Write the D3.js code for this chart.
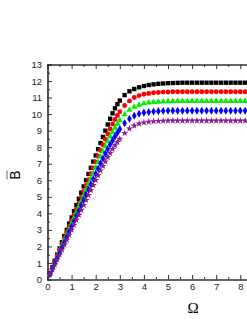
<!DOCTYPE html>
<html lang="en">

<head>
    <meta charset="UTF-8">
    <title>B vs Omega</title>
    <script src="https://cdn.jsdelivr.net/npm/d3@7"></script>
    <style>
        * {
            margin: 0;
            padding: 0;
        }

        body {
            background: #fff;
            overflow: hidden;
        }
    </style>
</head>

<body>
    <script>
        var width = 247;
        var height = 319;

        // omega grid (finer on the rising part, coarser on the plateau)
        var omega = [0.1, 0.2, 0.3, 0.4, 0.5, 0.6, 0.7, 0.8, 0.9, 1.0,
            1.1, 1.2, 1.3, 1.4, 1.5, 1.6, 1.7, 1.8, 1.9, 2.0,
            2.1, 2.2, 2.3, 2.4, 2.5, 2.6, 2.7, 2.8, 2.9, 3.0,
            3.2, 3.4, 3.6, 3.8, 4.0, 4.2, 4.4, 4.6, 4.8, 5.0,
            5.2, 5.4, 5.6, 5.8, 6.0, 6.2, 6.4, 6.6, 6.8, 7.0,
            7.2, 7.4, 7.6, 7.8, 8.0, 8.2, 8.4];

        var black = [0.38, 0.75, 1.13, 1.5, 1.88, 2.25, 2.63, 3.0, 3.38, 3.75,
            4.13, 4.5, 4.88, 5.25, 5.63, 6.0, 6.38, 6.75, 7.13, 7.5,
            7.88, 8.25, 8.62, 9.0, 9.37, 9.72, 10.05, 10.35, 10.6, 10.82,
            11.15, 11.38, 11.52, 11.62, 11.7, 11.76, 11.8, 11.83, 11.85, 11.87,
            11.88, 11.89, 11.9, 11.9, 11.9, 11.9, 11.9, 11.9, 11.9, 11.9,
            11.9, 11.9, 11.9, 11.9, 11.9, 11.9, 11.9];

        var red = [0.36, 0.71, 1.07, 1.42, 1.78, 2.13, 2.49, 2.84, 3.2, 3.55,
            3.91, 4.26, 4.62, 4.97, 5.33, 5.68, 6.04, 6.39, 6.75, 7.1,
            7.45, 7.8, 8.15, 8.48, 8.8, 9.1, 9.4, 9.67, 9.92, 10.15,
            10.52, 10.8, 11.0, 11.12, 11.2, 11.25, 11.29, 11.31, 11.33, 11.34,
            11.35, 11.35, 11.35, 11.35, 11.35, 11.35, 11.35, 11.35, 11.35, 11.35,
            11.35, 11.35, 11.35, 11.35, 11.35, 11.35, 11.35];

        var green = [0.34, 0.68, 1.01, 1.35, 1.69, 2.03, 2.37, 2.7, 3.04, 3.38,
            3.72, 4.06, 4.39, 4.73, 5.07, 5.41, 5.75, 6.08, 6.42, 6.76,
            7.09, 7.42, 7.74, 8.05, 8.35, 8.64, 8.91, 9.17, 9.41, 9.63,
            9.98, 10.25, 10.44, 10.56, 10.64, 10.69, 10.72, 10.74, 10.76, 10.77,
            10.78, 10.78, 10.78, 10.78, 10.78, 10.78, 10.78, 10.78, 10.78, 10.78,
            10.78, 10.78, 10.78, 10.78, 10.78, 10.78, 10.78];

        var blue = [0.32, 0.64, 0.96, 1.28, 1.6, 1.92, 2.24, 2.56, 2.88, 3.2,
            3.52, 3.84, 4.16, 4.48, 4.8, 5.12, 5.44, 5.76, 6.08, 6.4,
            6.71, 7.02, 7.32, 7.61, 7.89, 8.16, 8.41, 8.65, 8.88, 9.09,
            9.45, 9.72, 9.9, 10.02, 10.09, 10.13, 10.16, 10.18, 10.19, 10.2,
            10.2, 10.2, 10.2, 10.2, 10.2, 10.2, 10.2, 10.2, 10.2, 10.2,
            10.2, 10.2, 10.2, 10.2, 10.2, 10.2, 10.2];

        var purple = [0.3, 0.6, 0.9, 1.2, 1.5, 1.8, 2.1, 2.4, 2.7, 3.0,
            3.3, 3.6, 3.9, 4.2, 4.5, 4.8, 5.1, 5.4, 5.7, 6.0,
            6.29, 6.58, 6.86, 7.13, 7.39, 7.64, 7.88, 8.1, 8.31, 8.5,
            8.85, 9.12, 9.3, 9.42, 9.49, 9.53, 9.56, 9.58, 9.59, 9.6,
            9.6, 9.6, 9.6, 9.6, 9.6, 9.6, 9.6, 9.6, 9.6, 9.6,
            9.6, 9.6, 9.6, 9.6, 9.6, 9.6, 9.6];

        // only ticks that fall inside the visible window get labels
        var xTicks = [0, 1, 2, 3, 4, 5, 6, 7, 8];
        var yTicks = [0, 1, 2, 3, 4, 5, 6, 7, 8, 9, 10, 11, 12, 13];

        var series = [
            { values: black, color: '#000000', symbol: d3.symbolSquare, size: 19 },
            { values: red, color: '#ff0000', symbol: d3.symbolCircle, size: 19 },
            { values: green, color: '#00f000', symbol: d3.symbolTriangle, size: 17 },
            { values: blue, color: '#0000ff', symbol: d3.symbolDiamond, size: 19 },
            { values: purple, color: '#8b1a8b', symbol: d3.symbolStar, size: 16 }
        ];

        var svg = d3.select('body')
            .append('svg')
            .attr('width', width)
            .attr('height', height);

        // plot box runs past the right edge of the window
        var plotLeft = 47.5, plotTop = 64.5, plotBottom = 279.5;

        var xScale = d3.scaleLinear()
            .domain([0, 10])
            .range([plotLeft, plotLeft + 241]);

        var yScale = d3.scaleLinear()
            .domain([0, 13])
            .range([plotBottom, plotTop]);

        var minorX = [0.5, 1.5, 2.5, 3.5, 4.5, 5.5, 6.5, 7.5, 8.5];
        var minorY = d3.range(0, 13.01, 0.5).filter(function (d) { return d % 1 != 0; });

        //axes, ticks inward
        svg.append('g')
            .attr('transform', 'translate(0,' + plotBottom + ')')
            .call(d3.axisTop(xScale).tickValues(minorX).tickSize(2.5).tickFormat(''));
        svg.append('g')
            .attr('class', 'xaxis')
            .attr('transform', 'translate(0,' + plotBottom + ')')
            .call(d3.axisTop(xScale).tickValues(xTicks).tickSize(4.5).tickPadding(-15));

        svg.append('g')
            .attr('transform', 'translate(0,' + plotTop + ')')
            .call(d3.axisBottom(xScale).tickValues(minorX).tickSize(2.5).tickFormat(''));
        svg.append('g')
            .attr('transform', 'translate(0,' + plotTop + ')')
            .call(d3.axisBottom(xScale).tickValues(xTicks).tickSize(4.5).tickFormat(''));

        svg.append('g')
            .attr('transform', 'translate(' + plotLeft + ',0)')
            .call(d3.axisRight(yScale).tickValues(minorY).tickSize(2.5).tickFormat(''));
        svg.append('g')
            .attr('class', 'yaxis')
            .attr('transform', 'translate(' + plotLeft + ',0)')
            .call(d3.axisRight(yScale).tickValues(yTicks).tickSize(4.5).tickPadding(-10));

        svg.selectAll('.domain').attr('stroke', '#333').attr('stroke-width', 1.2);
        svg.selectAll('.tick line').attr('stroke', '#333');
        svg.selectAll('.tick text')
            .attr('fill', '#222')
            .style('font-family', 'Liberation Sans, Arial, sans-serif')
            .style('font-size', '9.5px');
        svg.selectAll('.yaxis .tick text').attr('text-anchor', 'end');

        // markers
        series.forEach(function (s) {
            svg.append('g')
                .selectAll('path')
                .data(s.values)
                .enter()
                .append('path')
                .attr('transform', function (d, i) {
                    return 'translate(' + xScale(omega[i]) + ',' + yScale(d) + ')';
                })
                .attr('d', d3.symbol().type(s.symbol).size(s.size))
                .attr('fill', s.color);
        });

        // axis titles
        svg.append('text')
            .attr('x', 193)
            .attr('y', 313)
            .attr('text-anchor', 'middle')
            .style('font-family', 'Liberation Serif, Times New Roman, serif')
            .style('font-size', '15px')
            .text('Ω');

        var ylab = svg.append('g')
            .attr('transform', 'translate(20,175) rotate(-90)');
        ylab.append('text')
            .attr('text-anchor', 'middle')
            .style('font-family', 'Liberation Sans, Arial, sans-serif')
            .style('font-size', '14px')
            .text('B');
        ylab.append('line')
            .attr('x1', -4.5).attr('x2', 4.5)
            .attr('y1', -13).attr('y2', -13)
            .attr('stroke', '#666')
            .attr('stroke-width', 1);
    </script>
</body>

</html>
